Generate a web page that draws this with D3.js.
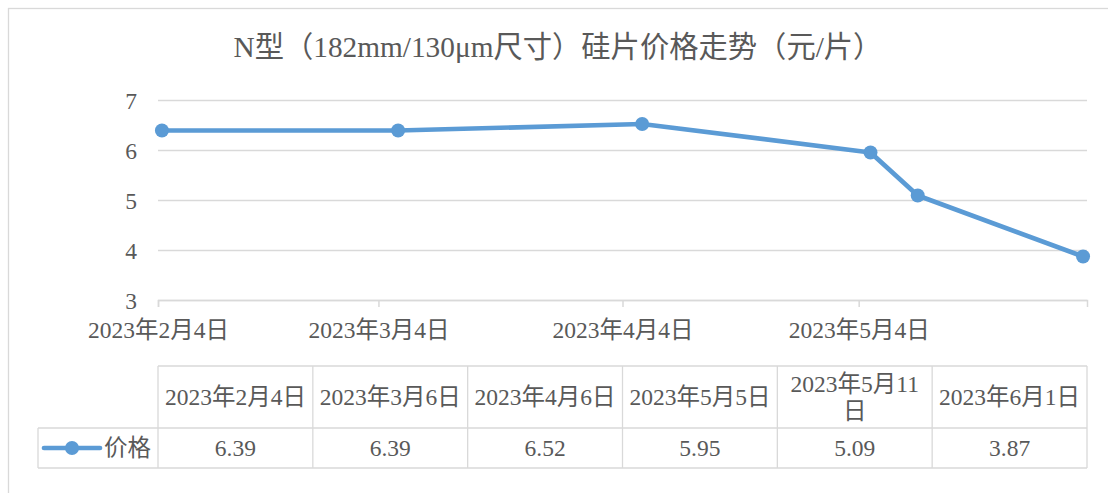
<!DOCTYPE html>
<html>
<head>
<meta charset="utf-8">
<script src="https://cdn.jsdelivr.net/npm/d3@7"></script>
<style>
  body { margin: 0; background: #fff; }
  svg text { font-family: "Liberation Serif", "Noto Sans CJK SC", serif; fill: #595959; }
</style>
</head>
<body>
<svg id="chart" width="1108" height="493"></svg>
<script>
// data
const dates = ["2023-02-04", "2023-03-06", "2023-04-06", "2023-05-05", "2023-05-11", "2023-06-01"];
const dateLabels = ["2023年2月4日", "2023年3月6日", "2023年4月6日", "2023年5月5日", "2023年5月11日", "2023年6月1日"];
const prices = [6.39, 6.39, 6.52, 5.95, 5.09, 3.87];
const priceLabels = ["6.39", "6.39", "6.52", "5.95", "5.09", "3.87"];
const tickDates = ["2023-02-04", "2023-03-04", "2023-04-04", "2023-05-04"];
const yTicks = [3, 4, 5, 6, 7];
const seriesName = "价格";
const title = "N型（182mm/130μm尺寸）硅片价格走势（元/片）";

const parse = d3.timeParse("%Y-%m-%d");
const blue = "#5b9bd5", grid = "#d9d9d9";
const fs = "23.5px";

const svg = d3.select("#chart");

// outer frame
svg.append("rect")
    .attr("x", 8.5).attr("y", 8.5)
    .attr("width", 1200).attr("height", 600)
    .attr("fill", "none").attr("stroke", grid).attr("stroke-width", 1.3);

svg.append("text")
    .attr("x", 558).attr("y", 57)
    .attr("text-anchor", "middle")
    .style("font-size", "29.3px")
    .text(title);

let plotL = 158, plotR = 1087, plotT = 100, plotB = 300;

// date axis, one day per unit, points sit mid-day
let x = d3.scaleTime()
    .domain([parse(dates[0]), d3.timeDay.offset(parse(dates[dates.length - 1]), 1)])
    .range([plotL, plotR]);
let y = d3.scaleLinear().domain([3, 7]).range([plotB, plotT]);
let mid = d => d3.timeHour.offset(parse(d), 12);

let g = svg.append("g");

g.append("g")
    .attr("transform", "translate(" + plotL + ",0)")
    .call(d3.axisLeft(y).tickValues(yTicks).tickSize(-(plotR - plotL)).tickPadding(21).tickFormat(d3.format("d")))
    .call(a => a.select(".domain").remove())
    .call(a => a.selectAll("line").attr("stroke", grid).attr("stroke-width", 1.5))
    .call(a => a.selectAll("text").attr("fill", "#595959").style("font-size", fs)
        .style("font-family", "'Liberation Serif', serif").attr("dy", "0.35em"));

g.append("g")
    .attr("transform", "translate(0," + plotB + ")")
    .call(d3.axisBottom(x).tickValues(tickDates.map(parse)).tickSize(7).tickPadding(14)
        .tickFormat(d3.timeFormat("%Y年%-m月%-d日")))
    .call(a => a.select(".domain").attr("stroke", grid).attr("stroke-width", 1.5))
    .call(a => a.selectAll("line").attr("stroke", grid).attr("stroke-width", 1.5))
    .call(a => a.selectAll("text").attr("fill", "#595959").style("font-size", fs)
        .style("font-family", "'Liberation Serif', 'Noto Sans CJK SC', serif"));

let line = d3.line()
    .x((d, i) => x(mid(dates[i])))
    .y(d => y(d));

g.append("path")
    .datum(prices)
    .attr("d", line)
    .attr("fill", "none")
    .attr("stroke", blue)
    .attr("stroke-width", 4.7)
    .attr("stroke-linejoin", "round");

g.selectAll(".dot")
    .data(prices)
    .enter().append("circle")
    .attr("class", "dot")
    .attr("cx", (d, i) => x(mid(dates[i])))
    .attr("cy", d => y(d))
    .attr("r", 7)
    .attr("fill", blue);

// data table under the chart
let tTop = 366, tMid = 428, tBot = 468, legLeft = 38;
let col = d3.scaleBand().domain(d3.range(dates.length)).range([plotL, plotR]);
let t = svg.append("g");

let hline = (x1, x2, yy) => t.append("line").attr("x1", x1).attr("x2", x2).attr("y1", yy).attr("y2", yy)
    .attr("stroke", grid).attr("stroke-width", 1.3);
let vline = (xx, y1, y2) => t.append("line").attr("x1", xx).attr("x2", xx).attr("y1", y1).attr("y2", y2)
    .attr("stroke", grid).attr("stroke-width", 1.3);

hline(plotL, plotR, tTop);
hline(legLeft, plotR, tMid);
hline(legLeft, plotR, tBot);
vline(legLeft, tMid, tBot);
d3.range(dates.length + 1).forEach(i => vline(plotL + i * col.bandwidth(), tTop, tBot));

// header labels, wrapped when too wide for the cell
let maxW = 147;
dateLabels.forEach((lab, i) => {
  let cx = col(i) + col.bandwidth() / 2;
  let txt = t.append("text").attr("text-anchor", "middle").style("font-size", fs);
  txt.text(lab);
  let lines = [lab];
  if (txt.node().getComputedTextLength() > maxW) {
    let cur = "";
    lines = [];
    Array.from(lab).forEach(c => {
      txt.text(cur + c);
      if (txt.node().getComputedTextLength() > maxW) { lines.push(cur); cur = c; }
      else cur += c;
    });
    lines.push(cur);
  }
  txt.text(null);
  let lh = 27;
  let y0 = (tTop + tMid) / 2 - (lines.length - 1) * lh / 2 + 8;
  lines.forEach((l, k) => txt.append("tspan").attr("x", cx).attr("y", y0 + k * lh).text(l));
});

priceLabels.forEach((v, i) => {
  t.append("text")
      .attr("x", col(i) + col.bandwidth() / 2)
      .attr("y", (tMid + tBot) / 2 + 8)
      .attr("text-anchor", "middle")
      .style("font-size", fs)
      .text(v);
});

// legend key in the table
let ly = (tMid + tBot) / 2;
t.append("line").attr("x1", 44).attr("x2", 100).attr("y1", ly).attr("y2", ly)
    .attr("stroke", blue).attr("stroke-width", 4.7).attr("stroke-linecap", "round");
t.append("circle").attr("cx", 72).attr("cy", ly).attr("r", 7).attr("fill", blue);
t.append("text").attr("x", 104).attr("y", ly + 8).style("font-size", fs).text(seriesName);
</script>
</body>
</html>
